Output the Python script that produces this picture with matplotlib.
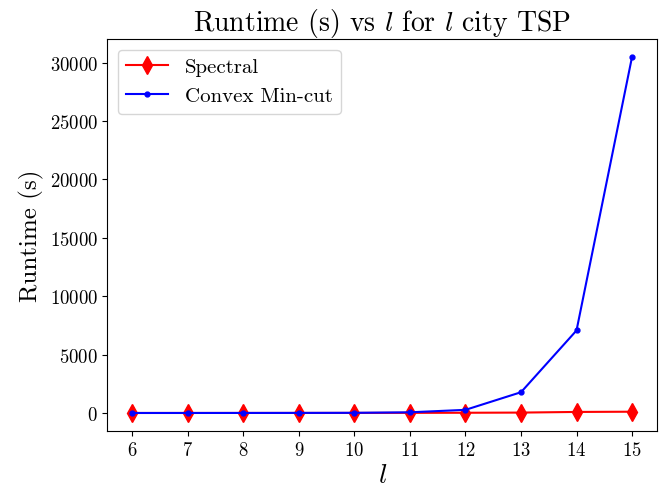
import matplotlib
matplotlib.use("Agg")
import matplotlib.pyplot as plt

plt.rcParams["font.family"] = "cmr10"
plt.rcParams["mathtext.fontset"] = "cm"
plt.rcParams["axes.formatter.use_mathtext"] = True

# city counts
cities = [6, 7, 8, 9, 10, 11, 12, 13, 14, 15]
# runtimes in seconds
spectral = [1, 2, 3, 5, 8, 12, 20, 35, 90, 110]
convex_mincut = [1, 2, 4, 8, 15, 60, 270, 1780, 7070, 30500]

fig, ax = plt.subplots(figsize=(6.59, 4.89), dpi=100)
fig.subplots_adjust(left=0.163, right=0.997, top=0.918, bottom=0.117)

ax.plot(cities, spectral, color="red", marker="d", markersize=9, label="Spectral")
ax.plot(cities, convex_mincut, color="blue", marker=".", markersize=7, label="Convex Min-cut")

ax.set_title(r"Runtime (s) vs $l$ for $l$ city TSP", fontsize=20)
ax.set_xlabel(r"$l$", fontsize=20, labelpad=2)
ax.set_ylabel("Runtime (s)", fontsize=18)
ax.set_xticks(cities)
ax.tick_params(labelsize=13.5)
ax.legend(loc="upper left", fontsize=15)

fig.savefig("out.png")
